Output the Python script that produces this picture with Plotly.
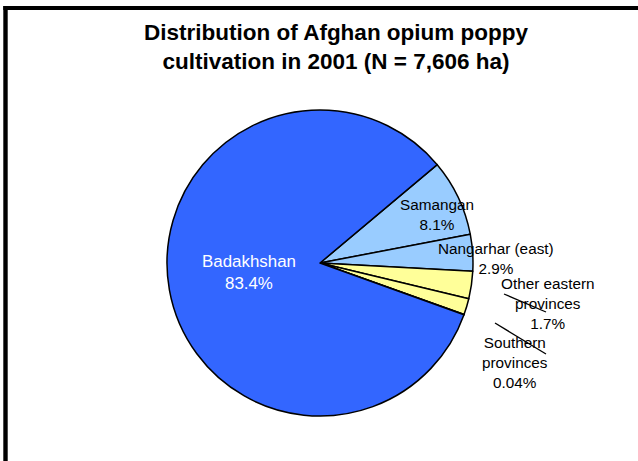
import plotly.graph_objects as go

# Data
labels = ["Samangan", "Other northern", "Nangarhar (east)", "Other eastern provinces",
          "Southern provinces", "Badakhshan"]
values = [8.1, 3.86, 2.9, 1.7, 0.04, 83.4]
colors = ["#99CCFF", "#99CCFF", "#FFFF99", "#FFFF99", "#FFFF99", "#3366FF"]
label_texts = ["Samangan<br>8.1%", "", "Nangarhar (east)<br>2.9%",
               "Other eastern<br>provinces<br>1.7%", "Southern<br>provinces<br>0.04%",
               "Badakhshan<br>83.4%"]
title_text = "Distribution of Afghan opium poppy<br>cultivation in 2001 (N = 7,606 ha)"

W, H = 638, 461
FONT = "Liberation Sans, Arial, sans-serif"

def px(x):
    return x / W

def py(y):
    return 1 - y / H

fig = go.Figure(go.Pie(
    labels=labels, values=values, sort=False, direction="clockwise", rotation=50,
    marker=dict(colors=colors, line=dict(color="black", width=1.5)),
    textinfo="none", hoverinfo="label+percent", showlegend=False,
    domain=dict(x=[px(167), px(473)], y=[py(416), py(110)]),
))

# label positions (px centres)
label_pos = [(437, 214, 15.3, "black"), None, (496, 258, 15.3, "black"),
             (548, 303, 15.3, "black"), (515, 362, 15.3, "black"),
             (249, 272, 16.9, "white")]
annotations = []
for t, p in zip(label_texts, label_pos):
    if p is None or not t:
        continue
    annotations.append(dict(x=px(p[0]), y=py(p[1]), xref="paper", yref="paper",
                             text=t, showarrow=False, xanchor="center", yanchor="middle",
                             font=dict(family=FONT, size=p[2], color=p[3])))
annotations.append(dict(x=px(336.5), y=py(47.5), xref="paper", yref="paper",
                        text="<b>" + title_text.replace("<br>", "</b><br><b>") + "</b>",
                        showarrow=False, xanchor="center", yanchor="middle",
                        font=dict(family=FONT, size=22.5, color="black")))

shapes = [
    dict(type="line", xref="paper", yref="paper", x0=px(5.5), x1=px(5.5), y0=-0.05, y1=py(6),
         line=dict(color="black", width=4.4)),
    dict(type="line", xref="paper", yref="paper", x0=px(3.3), x1=1.05, y0=py(8), y1=py(8),
         line=dict(color="black", width=4)),
    dict(type="line", xref="paper", yref="paper", x0=px(504), y0=py(294), x1=px(546), y1=py(312),
         line=dict(color="black", width=1.3)),
    dict(type="line", xref="paper", yref="paper", x0=px(495), y0=py(323), x1=px(546), y1=py(354),
         line=dict(color="black", width=1.3)),
]

fig.update_layout(
    width=W, height=H, margin=dict(l=0, r=0, t=0, b=0),
    paper_bgcolor="white", plot_bgcolor="white",
    annotations=annotations, shapes=shapes,
)

fig.write_html("out.html")
